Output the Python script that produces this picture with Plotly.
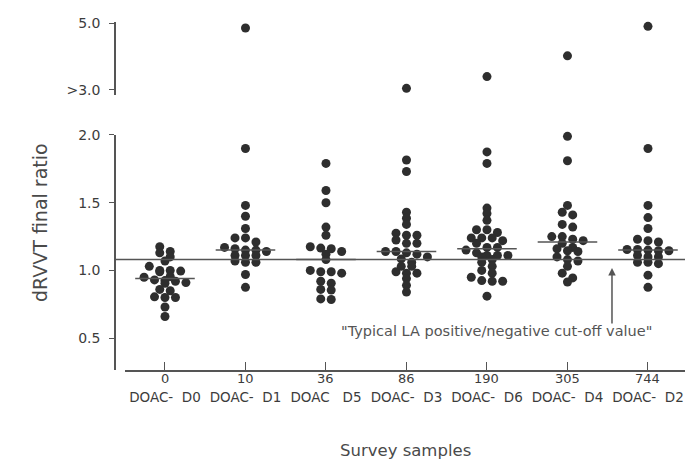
import numpy as np
import plotly.graph_objects as go

# Survey samples (ordered by DOAC concentration)
sample_names = ["DOAC-\u00a0\u00a0D0", "DOAC-\u00a0\u00a0D1", "DOAC\u00a0\u00a0\u00a0D5", "DOAC-\u00a0\u00a0D3",
                "DOAC-\u00a0\u00a0D6", "DOAC-\u00a0\u00a0D4", "DOAC-\u00a0\u00a0D2"]
concentrations = ["0", "10", "36", "86", "190", "305", "744"]

# dRVVT final ratios reported per sample
ratios_d0 = [1.175, 1.14, 1.13, 1.10, 1.07, 1.03, 1.00, 1.00, 0.995, 0.99, 0.955, 0.95,
             0.93, 0.925, 0.92, 0.91, 0.905, 0.86, 0.85, 0.805, 0.80, 0.80, 0.73, 0.66]
ratios_d1 = [4.85, 1.90, 1.48, 1.40, 1.31, 1.24, 1.24, 1.21, 1.17, 1.16, 1.15, 1.15, 1.14,
             1.11, 1.11, 1.11, 1.07, 1.06, 1.06, 0.97, 0.875]
ratios_d5 = [1.79, 1.59, 1.50, 1.32, 1.26, 1.175, 1.165, 1.16, 1.14, 1.12, 1.08, 1.00,
             0.99, 0.99, 0.98, 0.92, 0.905, 0.86, 0.855, 0.79, 0.785]
ratios_d3 = [3.05, 1.815, 1.73, 1.43, 1.385, 1.34, 1.275, 1.26, 1.26, 1.225, 1.20, 1.20,
             1.14, 1.14, 1.13, 1.12, 1.10, 1.085, 1.06, 1.03, 1.03, 0.99, 0.98, 0.98,
             0.94, 0.89, 0.84]
ratios_d6 = [3.40, 1.875, 1.79, 1.46, 1.42, 1.37, 1.30, 1.30, 1.28, 1.24, 1.24, 1.24,
             1.22, 1.20, 1.17, 1.17, 1.15, 1.13, 1.11, 1.11, 1.11, 1.10, 1.08, 1.06,
             1.03, 1.00, 0.98, 0.95, 0.925, 0.92, 0.92, 0.81]
ratios_d4 = [4.02, 1.99, 1.81, 1.48, 1.43, 1.41, 1.34, 1.32, 1.25, 1.25, 1.23, 1.22, 1.20,
             1.17, 1.16, 1.145, 1.14, 1.10, 1.08, 1.07, 1.03, 0.98, 0.945, 0.915]
ratios_d2 = [4.90, 1.90, 1.48, 1.39, 1.31, 1.23, 1.22, 1.21, 1.155, 1.155, 1.15, 1.145,
             1.145, 1.11, 1.10, 1.10, 1.06, 1.06, 1.05, 0.965, 0.875]

groups = [ratios_d0, ratios_d1, ratios_d5, ratios_d3, ratios_d6, ratios_d4, ratios_d2]

cutoff = 1.08          # typical LA positive/negative cut-off
axis_break = 2.5       # values above this go on the upper (broken) axis segment

DOT = "#2e2e2e"
INK = "#3c3c3c"
LINE = "#555555"
FONT = "DejaVu Sans, Verdana, sans-serif"


def swarm_offsets(values, row_h=0.04, step=0.13):
    """Spread points with similar values side by side (column scatter)."""
    values = np.asarray(values, dtype=float)
    order = np.argsort(-values, kind="stable")
    rows, current, anchor = [], [], None
    for idx in order:
        v = values[idx]
        if anchor is None or anchor - v > row_h:
            if current:
                rows.append(current)
            current, anchor = [idx], v
        else:
            current.append(idx)
    if current:
        rows.append(current)
    offsets = np.zeros(len(values))
    for row in rows:
        n = len(row)
        for j, idx in enumerate(row):
            offsets[idx] = (j - (n - 1) / 2) * step
    return offsets


fig = go.Figure()

for i, vals in enumerate(groups):
    vals = np.asarray(vals, dtype=float)
    low = vals[vals <= axis_break]
    high = vals[vals > axis_break]
    fig.add_trace(go.Scatter(
        x=i + swarm_offsets(low), y=low, mode="markers", xaxis="x", yaxis="y",
        marker=dict(size=9, color=DOT, line=dict(width=0)),
        cliponaxis=False, showlegend=False, hoverinfo="y"))
    if len(high):
        fig.add_trace(go.Scatter(
            x=i + swarm_offsets(high), y=high, mode="markers", xaxis="x", yaxis="y2",
            marker=dict(size=9, color=DOT, line=dict(width=0)),
            cliponaxis=False, showlegend=False, hoverinfo="y"))
    # median bar for the sample
    med = float(np.median(vals))
    fig.add_trace(go.Scatter(
        x=[i - 0.37, i + 0.37], y=[med, med], mode="lines", xaxis="x", yaxis="y",
        line=dict(color=LINE, width=1.5), showlegend=False, hoverinfo="skip"))

# cut-off line across the plot
fig.add_shape(type="line", xref="paper", yref="y", x0=0, x1=1, y0=cutoff, y1=cutoff,
              line=dict(color=LINE, width=1.5))

annotations = []
# drug concentration above each sample tick
for i, c in enumerate(concentrations):
    annotations.append(dict(x=i, y=0.027, xref="x", yref="paper", text=c, showarrow=False,
                            font=dict(size=13, color=INK, family=FONT),
                            xanchor="center", yanchor="middle"))

annotations += [
    dict(x=4.124, y=0.552, xref="x", yref="y",
         text="\"Typical LA positive/negative cut-off value\"", showarrow=False,
         font=dict(size=14.5, color="#555555", family=FONT), xanchor="center", yanchor="middle"),
    dict(x=5.553, y=1.018, xref="x", yref="y", text="", showarrow=True,
         ax=0, ay=57, arrowhead=2, arrowsize=1, arrowwidth=1.5, arrowcolor=LINE),
    dict(x=-0.1316, y=0.4536, xref="paper", yref="paper", text="dRVVT final ratio",
         textangle=-90, showarrow=False, font=dict(size=19, color="#4a4a4a", family=FONT),
         xanchor="center", yanchor="middle"),
    dict(x=0.5088, y=-0.1694, xref="paper", yref="paper", text="Survey samples",
         showarrow=False, font=dict(size=16.5, color="#4a4a4a", family=FONT),
         xanchor="center", yanchor="middle"),
]

fig.update_layout(
    width=685, height=461,
    margin=dict(l=115, r=0, t=22, b=73),
    paper_bgcolor="white", plot_bgcolor="white",
    font=dict(family=FONT, color=INK, size=13),
    xaxis=dict(domain=[0.0175, 1], range=[-0.497, 6.46],
               tickmode="array", tickvals=list(range(len(sample_names))), ticktext=sample_names,
               showline=True, linecolor=LINE, linewidth=1.5,
               ticks="inside", ticklen=8, tickcolor=LINE, tickwidth=1.2,
               showgrid=False, zeroline=False, ticklabelstandoff=14,
               tickfont=dict(size=13.5, color=INK, family=FONT)),
    yaxis=dict(domain=[0.0492, 0.6913], range=[0.265, 2.0], anchor="free", position=0,
               tickmode="array", tickvals=[0.5, 1.0, 1.5, 2.0],
               ticktext=["0.5", "1.0", "1.5", "2.0"],
               showline=True, linecolor=LINE, linewidth=1.5,
               ticks="outside", ticklen=5, tickcolor=LINE,
               showgrid=False, zeroline=False, ticklabelstandoff=6,
               tickfont=dict(size=14, color=INK, family=FONT)),
    yaxis2=dict(domain=[0.8005, 1.0], range=[2.85, 5.03], anchor="free", position=0,
                tickmode="array", tickvals=[3.0, 5.0], ticktext=[">3.0", "5.0"],
                showline=True, linecolor=LINE, linewidth=1.5,
                ticks="outside", ticklen=5, tickcolor=LINE,
                showgrid=False, zeroline=False, ticklabelstandoff=6,
                tickfont=dict(size=14, color=INK, family=FONT)),
    annotations=annotations,
)

fig.write_html("out.html")
